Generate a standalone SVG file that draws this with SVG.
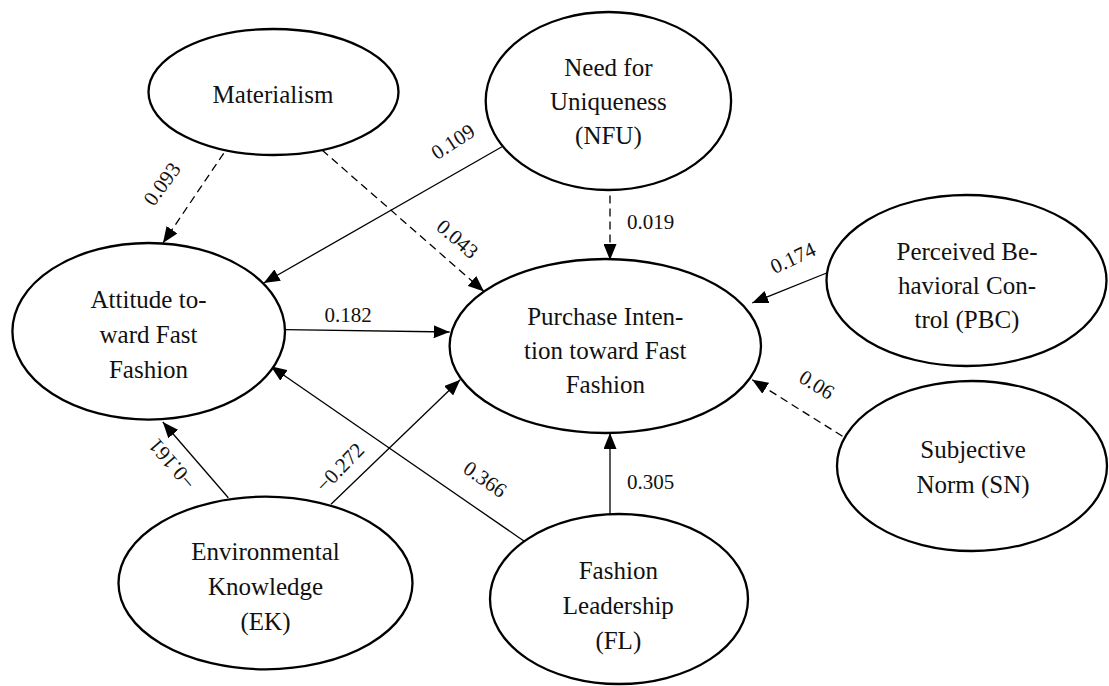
<svg xmlns="http://www.w3.org/2000/svg" width="1109" height="686" viewBox="0 0 1109 686">
<style>
.node ellipse{fill:#fff;stroke:#000;stroke-width:2.3}
.node text{font-family:"Liberation Serif","DejaVu Serif",serif;font-size:25px;text-anchor:middle;fill:#111}
.conn line{stroke:#000;stroke-width:1.3;fill:none;marker-end:url(#arr)}
.conn line.d{stroke-dasharray:8 5}
.lbl{font-family:"Liberation Serif","DejaVu Serif",serif;font-size:21px;text-anchor:middle;fill:#111}
</style>
<defs>
<marker id="arr" markerUnits="userSpaceOnUse" markerWidth="16" markerHeight="13" refX="16" refY="6.5" orient="auto">
<path d="M0,0 L16,6.5 L0,13 z" fill="#000"/>
</marker>
</defs>
<rect width="1109" height="686" fill="#fff"/>
<g id="connectors" class="conn">
<line class="d" x1="223.7" y1="153.3" x2="163" y2="243"/>
<line class="d" x1="322" y1="150" x2="484" y2="291.5"/>
<line x1="502" y1="146.7" x2="263.7" y2="283"/>
<line class="d" x1="610" y1="195.5" x2="610" y2="260"/>
<line x1="285" y1="329.7" x2="449.6" y2="332"/>
<line x1="826.6" y1="273" x2="752.2" y2="303"/>
<line class="d" x1="842.5" y1="436.3" x2="752.2" y2="379.7"/>
<line x1="228.3" y1="497.7" x2="162.8" y2="422"/>
<line x1="331" y1="504.3" x2="460.2" y2="379.7"/>
<line x1="523.9" y1="541" x2="270.8" y2="366.3"/>
<line x1="610" y1="514.3" x2="610" y2="433"/>
</g>
<g id="labels">
<text class="lbl" transform="translate(162,184) rotate(-54)" y="7">0.093</text>
<text class="lbl" transform="translate(453,141.7) rotate(-33)" y="7">0.109</text>
<text class="lbl" transform="translate(457.5,239) rotate(41)" y="7">0.043</text>
<text class="lbl" x="650.5" y="229">0.019</text>
<text class="lbl" x="348" y="322.3">0.182</text>
<text class="lbl" transform="translate(793,258) rotate(-25)" y="7">0.174</text>
<text class="lbl" transform="translate(816.7,384.7) rotate(32)" y="7">0.06</text>
<text class="lbl" transform="translate(340,467.5) rotate(-46)" y="7">−0.272</text>
<text class="lbl" transform="translate(485,479.3) rotate(35)" y="7">0.366</text>
<text class="lbl" transform="translate(172,464) rotate(-131)" y="7">−0.161</text>
<text class="lbl" x="650.5" y="489.3">0.305</text>
</g>
<g id="materialism" class="node">
<ellipse cx="273.5" cy="92" rx="125" ry="63"/>
<text x="273" y="103">Materialism</text>
</g>
<g id="nfu" class="node">
<ellipse cx="608.4" cy="101" rx="122.7" ry="89"/>
<text x="608.4" y="76">Need for</text>
<text x="608.4" y="110">Uniqueness</text>
<text x="608.4" y="144">(NFU)</text>
</g>
<g id="attitude" class="node">
<ellipse cx="148.7" cy="331.3" rx="136.3" ry="88.3"/>
<text x="148.5" y="308">Attitude to-</text>
<text x="148.5" y="343">ward Fast</text>
<text x="148.5" y="378">Fashion</text>
</g>
<g id="purchase-intention" class="node">
<ellipse cx="605.3" cy="346" rx="155.7" ry="87"/>
<text x="605.3" y="325">Purchase Inten-</text>
<text x="605.3" y="359">tion toward Fast</text>
<text x="605.3" y="393">Fashion</text>
</g>
<g id="pbc" class="node">
<ellipse cx="966.5" cy="280.5" rx="140" ry="85.5"/>
<text x="967" y="260">Perceived Be-</text>
<text x="967" y="294">havioral Con-</text>
<text x="967" y="328">trol (PBC)</text>
</g>
<g id="sn" class="node">
<ellipse cx="972" cy="466" rx="135" ry="85"/>
<text x="973" y="458">Subjective</text>
<text x="973" y="493">Norm (SN)</text>
</g>
<g id="ek" class="node">
<ellipse cx="265.5" cy="583" rx="147" ry="86.3"/>
<text x="265.5" y="560">Environmental</text>
<text x="265.5" y="594.5">Knowledge</text>
<text x="265.5" y="629.5">(EK)</text>
</g>
<g id="fl" class="node">
<ellipse cx="619" cy="599" rx="129" ry="85"/>
<text x="618.3" y="579.3">Fashion</text>
<text x="618.3" y="614.3">Leadership</text>
<text x="618.3" y="648.7">(FL)</text>
</g>
</svg>
